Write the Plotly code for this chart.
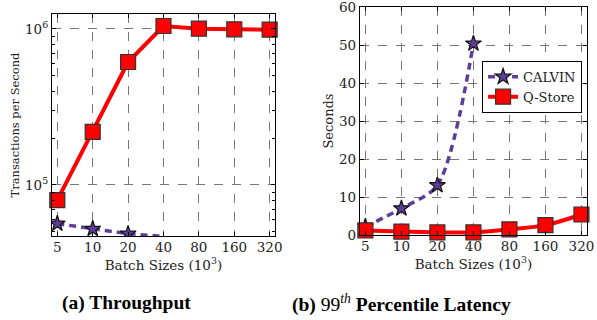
import plotly.graph_objects as go

batch_labels = ["5", "10", "20", "40", "80", "160", "320"]
qstore_tput = [80000, 219000, 614000, 1045000, 1005000, 995000, 990000]
calvin_tput = [56500, 52300, 48700, 46800]
qstore_lat = [1.2, 0.9, 0.7, 0.7, 1.5, 2.6, 5.4]
calvin_lat = [2.2, 7.0, 13.1, 50.4]

RED = "#ff0000"
PURPLE = "#5e3c99"
FONT = "DejaVu Serif"
TXT = "#222222"
idx = list(range(len(batch_labels)))

fig = go.Figure()
sq = dict(symbol="square", size=15, color=RED, line=dict(color="#333333", width=1.2))
st = dict(symbol="star", size=12, color=PURPLE, line=dict(color="#111111", width=1.2))

fig.add_trace(go.Scatter(x=idx[:len(calvin_tput)], y=calvin_tput, mode="lines+markers",
                         line=dict(color=PURPLE, width=3.5, dash="7px,5px"), marker=st,
                         xaxis="x", yaxis="y", showlegend=False, cliponaxis=True))
fig.add_trace(go.Scatter(x=idx, y=qstore_tput, mode="lines+markers",
                         line=dict(color=RED, width=4), marker=sq,
                         xaxis="x", yaxis="y", showlegend=False, cliponaxis=False))
fig.add_trace(go.Scatter(x=idx[:len(calvin_lat)], y=calvin_lat, mode="lines+markers", name="CALVIN",
                         line=dict(color=PURPLE, width=3.5, dash="7px,5px", shape="spline", smoothing=0.8),
                         marker=st, xaxis="x2", yaxis="y2", cliponaxis=False))
fig.add_trace(go.Scatter(x=idx, y=qstore_lat, mode="lines+markers", name="Q-Store",
                         line=dict(color=RED, width=4, shape="spline"), marker=sq,
                         xaxis="x2", yaxis="y2", cliponaxis=False))

axis_common = dict(showline=True, linecolor="black", linewidth=1.2, mirror="allticks",
                   ticks="inside", ticklen=4, tickcolor="black", automargin=False,
                   ticklabeloverflow="allow",
                   showgrid=True, gridcolor="#777777", griddash="dash", gridwidth=1,
                   zeroline=False, tickfont=dict(family=FONT, size=13.5, color=TXT))

xcommon = dict(axis_common, tickmode="array", tickvals=idx, ticktext=batch_labels,
               range=[-0.15, 6.15], ticklabelstandoff=-1,
               title=dict(text="Batch Sizes (10<sup>3</sup>)", font=dict(family=FONT, size=13.5, color=TXT),
                          standoff=0))

minor_vals = [v * 10**e for e in (4, 5) for v in range(2, 10)]

fig.update_layout(
    width=597, height=320,
    margin=dict(l=0, r=0, t=0, b=0),
    paper_bgcolor="white", plot_bgcolor="white",
    xaxis=dict(xcommon, domain=[0.0871, 0.4606], anchor="y"),
    yaxis=dict(axis_common, type="log", domain=[0.2625, 0.95625], anchor="x",
               range=[4.673, 6.096], tickmode="array", tickvals=[1e5, 1e6],
               ticktext=["10<sup>5</sup>", "10<sup>6</sup>"],
               minor=dict(tickmode="array", tickvals=minor_vals, ticks="inside", ticklen=2.5,
                          tickcolor="black", showgrid=False),
               title=dict(text="Transactions per Second", font=dict(family=FONT, size=11.5, color=TXT),
                          standoff=2)),
    xaxis2=dict(xcommon, domain=[0.603, 0.983], anchor="y2"),
    yaxis2=dict(axis_common, domain=[0.2656, 0.978], anchor="x2", range=[0, 60.02],
                tickmode="array", tickvals=[0, 10, 20, 30, 40, 50, 60],
                title=dict(text="Seconds", font=dict(family=FONT, size=13, color=TXT), standoff=2)),
    legend=dict(x=0.975, y=0.81, xanchor="right", yanchor="top",
                bordercolor="black", borderwidth=1, bgcolor="white",
                font=dict(family=FONT, size=13, color=TXT), itemwidth=30, tracegroupgap=0),
    annotations=[
        dict(text="<b>(a) Throughput</b>", x=127 / 597, y=1 - 303 / 320, xref="paper", yref="paper",
             showarrow=False, xanchor="center", yanchor="middle",
             font=dict(family="Liberation Serif", size=19.5, color="black")),
        dict(text="<b>(b)</b> 99<sup><i>th</i></sup> <b>Percentile Latency</b>", x=401 / 597, y=1 - 303 / 320,
             xref="paper", yref="paper", showarrow=False, xanchor="center", yanchor="middle",
             font=dict(family="Liberation Serif", size=19.5, color="black")),
    ],
)

fig.write_html("out.html", config={"displayModeBar": False},
               post_script="document.body.style.margin='0px';")
